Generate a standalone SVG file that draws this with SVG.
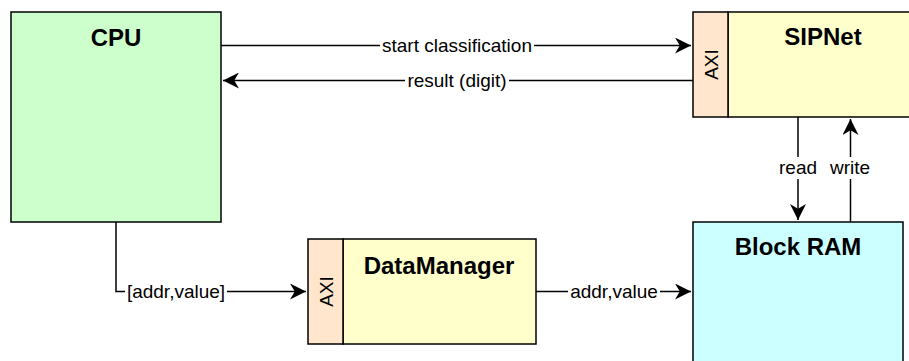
<svg xmlns="http://www.w3.org/2000/svg" width="909" height="361" viewBox="0 0 909 361">
<style>
.box{stroke:#000;stroke-width:1.5}
.title{font-family:"Liberation Sans",Arial,sans-serif;font-weight:bold;font-size:24px;text-anchor:middle;fill:#000}
.lbl{font-family:"Liberation Sans",Arial,sans-serif;font-size:19px;text-anchor:middle;fill:#000}
.bg{fill:#fff}
.edge{fill:none;stroke:#000;stroke-width:1.5}
</style>
<defs>
<marker id="arr" viewBox="0 0 10 10" refX="10" refY="5" markerWidth="10" markerHeight="10" markerUnits="userSpaceOnUse" orient="auto">
<path d="M0,0 L10,5 L0,10 L2.5,5 Z" fill="#000"/>
</marker>
<marker id="arrb" viewBox="0 0 10 10" refX="10" refY="5" markerWidth="16" markerHeight="16" markerUnits="userSpaceOnUse" orient="auto">
<path d="M0,0 L10,5 L0,10 L3,5 Z" fill="#000"/>
</marker>
</defs>
<rect width="909" height="361" fill="#fff"/>
<g id="cpu">
<rect class="box" x="11" y="12" width="210" height="210" fill="#CCFFCC"/>
<text class="title" x="116" y="46">CPU</text>
</g>
<g id="sipnet">
<rect class="box" x="728" y="12" width="190" height="105" fill="#FFFFCC"/>
<rect class="box" x="693" y="12" width="35" height="105" fill="#FFE6CC"/>
<text class="title" x="823" y="45">SIPNet</text>
<text class="lbl" transform="translate(717.5,64.5) rotate(-90)" x="0" y="0">AXI</text>
</g>
<g id="datamanager">
<rect class="box" x="343" y="239" width="193" height="105" fill="#FFFFCC"/>
<rect class="box" x="308" y="239" width="35" height="105" fill="#FFE6CC"/>
<text class="title" x="439" y="274">DataManager</text>
<text class="lbl" transform="translate(332.5,291.5) rotate(-90)" x="0" y="0">AXI</text>
</g>
<g id="blockram">
<rect class="box" x="693" y="222" width="210" height="210" fill="#CCFFFF"/>
<text class="title" x="798" y="255">Block RAM</text>
</g>
<g id="connectors">
<path class="edge" d="M221,45.5 H691" marker-end="url(#arrb)"/>
<rect class="bg" x="380" y="35" width="154" height="21"/>
<text class="lbl" x="457" y="52">start classification</text>
<path class="edge" d="M693,80.5 H223" marker-end="url(#arrb)"/>
<rect class="bg" x="405" y="70" width="104" height="21"/>
<text class="lbl" x="457" y="87">result (digit)</text>
<path class="edge" d="M798,117 V220" marker-end="url(#arrb)"/>
<rect class="bg" x="776" y="157" width="44" height="22"/>
<text class="lbl" x="798" y="174">read</text>
<path class="edge" d="M850.5,222 V119" marker-end="url(#arrb)"/>
<rect class="bg" x="828" y="157" width="44" height="22"/>
<text class="lbl" x="850" y="174">write</text>
<path class="edge" d="M116,222 V291.5 H306" marker-end="url(#arrb)"/>
<rect class="bg" x="125" y="281" width="102" height="21"/>
<text class="lbl" x="176" y="298">[addr,value]</text>
<path class="edge" d="M536,291.5 H691" marker-end="url(#arrb)"/>
<rect class="bg" x="568" y="281" width="92" height="21"/>
<text class="lbl" x="614" y="298">addr,value</text>
</g>
</svg>
